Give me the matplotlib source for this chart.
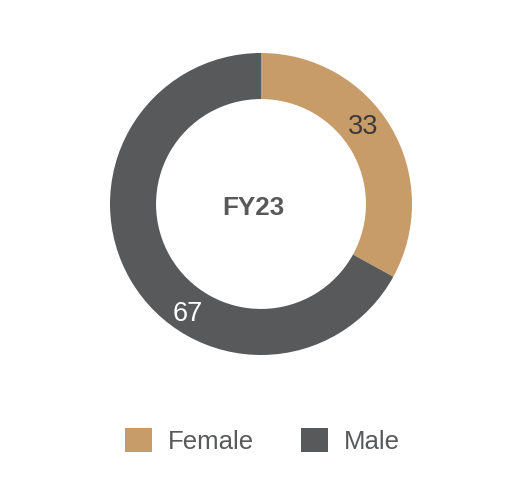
import matplotlib
matplotlib.use("Agg")
import matplotlib.pyplot as plt
import numpy as np
from matplotlib.patches import Patch

plt.rcParams['font.family'] = ['Liberation Sans', 'DejaVu Sans']

categories = ["Female", "Male"]
values = [33, 67]
colors = ["#C89C68", "#58595B"]
center_label = "FY23"

fig = plt.figure(figsize=(5.2, 4.84), dpi=100)
ax = fig.add_axes([0, 0, 1, 1])

cx, cy, R = 261, 280, 151
wedges, _ = ax.pie(values, colors=colors, startangle=90, counterclock=False,
                   radius=R, center=(cx, cy),
                   wedgeprops=dict(width=R * 0.305, edgecolor='none'))
ax.set_xlim(0, 520)
ax.set_ylim(0, 484)
ax.set_aspect('equal')
ax.axis('off')

# value labels
label_pos = [(37.5, 0.85), (236, 0.87)]
label_colors = ["#3a3a3a", "white"]
for v, (ang, d), c in zip(values, label_pos, label_colors):
    a = np.deg2rad(ang)
    ax.text(cx + R * d * np.cos(a), cy + R * d * np.sin(a) - 1, str(v),
            ha='center', va='center', fontsize=19.5, color=c)

ax.text(cx - 8, cy - 4, center_label, ha='center', va='center', fontsize=18.7,
        fontweight='bold', color="#58595B")

handles = [Patch(facecolor=c, edgecolor='none', label=l) for c, l in zip(colors, categories)]
leg = fig.legend(handles=handles, loc='center', bbox_to_anchor=(262.5 / 520, 1 - 441 / 484),
                 ncol=2, frameon=False, fontsize=18.5, handlelength=1.05, handleheight=1.05,
                 handletextpad=0.65, columnspacing=1.8)
for t in leg.get_texts():
    t.set_color("#58595B")

fig.savefig("out.png", dpi=100)
